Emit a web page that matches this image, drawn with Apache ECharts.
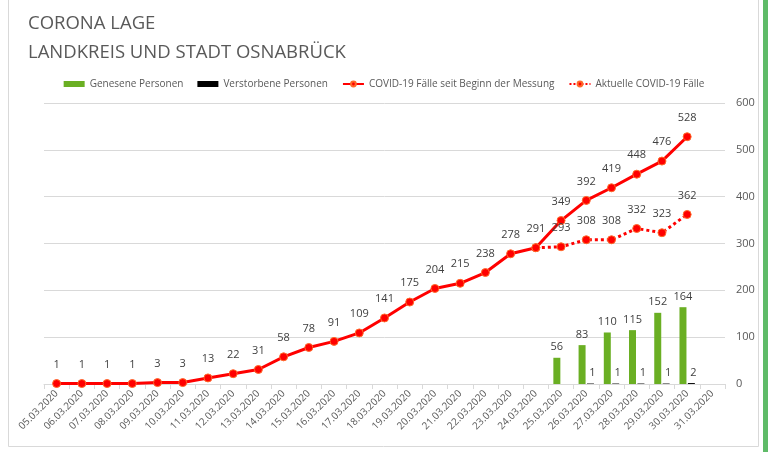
<!DOCTYPE html>
<html><head><meta charset="utf-8">
<script src="https://cdn.jsdelivr.net/npm/echarts@6/dist/echarts.min.js"></script>
<style>html,body{margin:0;padding:0;background:#fff}#c{width:768px;height:452px}</style>
</head><body><div id="c"></div>
<script>
const dates = ['05.03.2020','06.03.2020','07.03.2020','08.03.2020','09.03.2020','10.03.2020','11.03.2020','12.03.2020','13.03.2020','14.03.2020','15.03.2020','16.03.2020','17.03.2020','18.03.2020','19.03.2020','20.03.2020','21.03.2020','22.03.2020','23.03.2020','24.03.2020','25.03.2020','26.03.2020','27.03.2020','28.03.2020','29.03.2020','30.03.2020','31.03.2020'];
const cumulative = [1,1,1,1,3,3,13,22,31,58,78,91,109,141,175,204,215,238,278,291,349,392,419,448,476,528,null];
const current = [null,null,null,null,null,null,null,null,null,null,null,null,null,null,null,null,null,null,null,291,293,308,308,332,323,362,null];
const recovered = [null,null,null,null,null,null,null,null,null,null,null,null,null,null,null,null,null,null,null,null,56,83,110,115,152,164,null];
const deaths = [null,null,null,null,null,null,null,null,null,null,null,null,null,null,null,null,null,null,null,null,null,1,1,1,1,2,null];
const yTicks = {min:0, max:600, interval:100};

const chart = echarts.init(document.getElementById('c'));
const font = 'Open Sans';
const txt = '#595959';
const lbl = {show:true, position:'top', fontSize:11, color:'#404040', fontFamily:font};
chart.setOption({
  animation:false,
  graphic:[
    {type:'rect', shape:{x:8.5,y:-2,width:750,height:448.5}, style:{fill:'none',stroke:'#d9d9d9',lineWidth:1}, silent:true},
    {type:'rect', shape:{x:763,y:0,width:5,height:452}, style:{fill:'#5fbb68'}, silent:true}
  ],
  title:{text:'CORONA LAGE\nLANDKREIS UND STADT OSNABRÜCK', left:23, top:4,
    textStyle:{fontFamily:font, fontSize:18.5, fontWeight:'normal', color:txt, lineHeight:29}},
  legend:{top:74, left:'center', itemGap:14, itemWidth:21, itemHeight:6,
    textStyle:{fontFamily:font, fontSize:10, color:txt},
    data:[{name:'Genesene Personen',icon:'rect'},{name:'Verstorbene Personen',icon:'rect'},
      'COVID-19 Fälle seit Beginn der Messung','Aktuelle COVID-19 Fälle']},
  grid:{left:44, right:43, top:103, bottom:68, containLabel:false},
  xAxis:{type:'category', data:dates, boundaryGap:true,
    axisLine:{lineStyle:{color:'#d9d9d9'}},
    axisTick:{show:true, lineStyle:{color:'#d9d9d9'}, length:5},
    axisLabel:{rotate:45, fontSize:10, color:txt, fontFamily:font, interval:0, margin:8}},
  yAxis:{type:'value', position:'right', min:yTicks.min, max:yTicks.max, interval:yTicks.interval,
    axisLine:{show:false}, axisTick:{show:false},
    axisLabel:{fontSize:11, color:txt, fontFamily:font, margin:11},
    splitLine:{lineStyle:{color:'#d9d9d9'}}},
  series:[
    {name:'Genesene Personen', type:'bar', data:recovered, barWidth:7, barGap:'20%',
      itemStyle:{color:'#6aaf23'}, label:lbl},
    {name:'Verstorbene Personen', type:'bar', data:deaths, barWidth:7,
      itemStyle:{color:'#000000'}, label:Object.assign({}, lbl, {offset:[2,0]})},
    {name:'COVID-19 Fälle seit Beginn der Messung', type:'line', data:cumulative,
      symbol:'circle', symbolSize:8, lineStyle:{color:'#ff0000', width:3},
      itemStyle:{color:'#ff0000', borderColor:'#ff6a2a', borderWidth:1},
      label:Object.assign({}, lbl, {distance:9})},
    {name:'Aktuelle COVID-19 Fälle', type:'line', data:current,
      symbol:'circle', symbolSize:8, lineStyle:{color:'#ff0000', width:3, type:'dotted'},
      itemStyle:{color:'#ff0000', borderColor:'#ff6a2a', borderWidth:1},
      label:Object.assign({}, lbl, {distance:9, formatter:p=>p.dataIndex===19?'':p.value})}
  ]
});
</script></body></html>
